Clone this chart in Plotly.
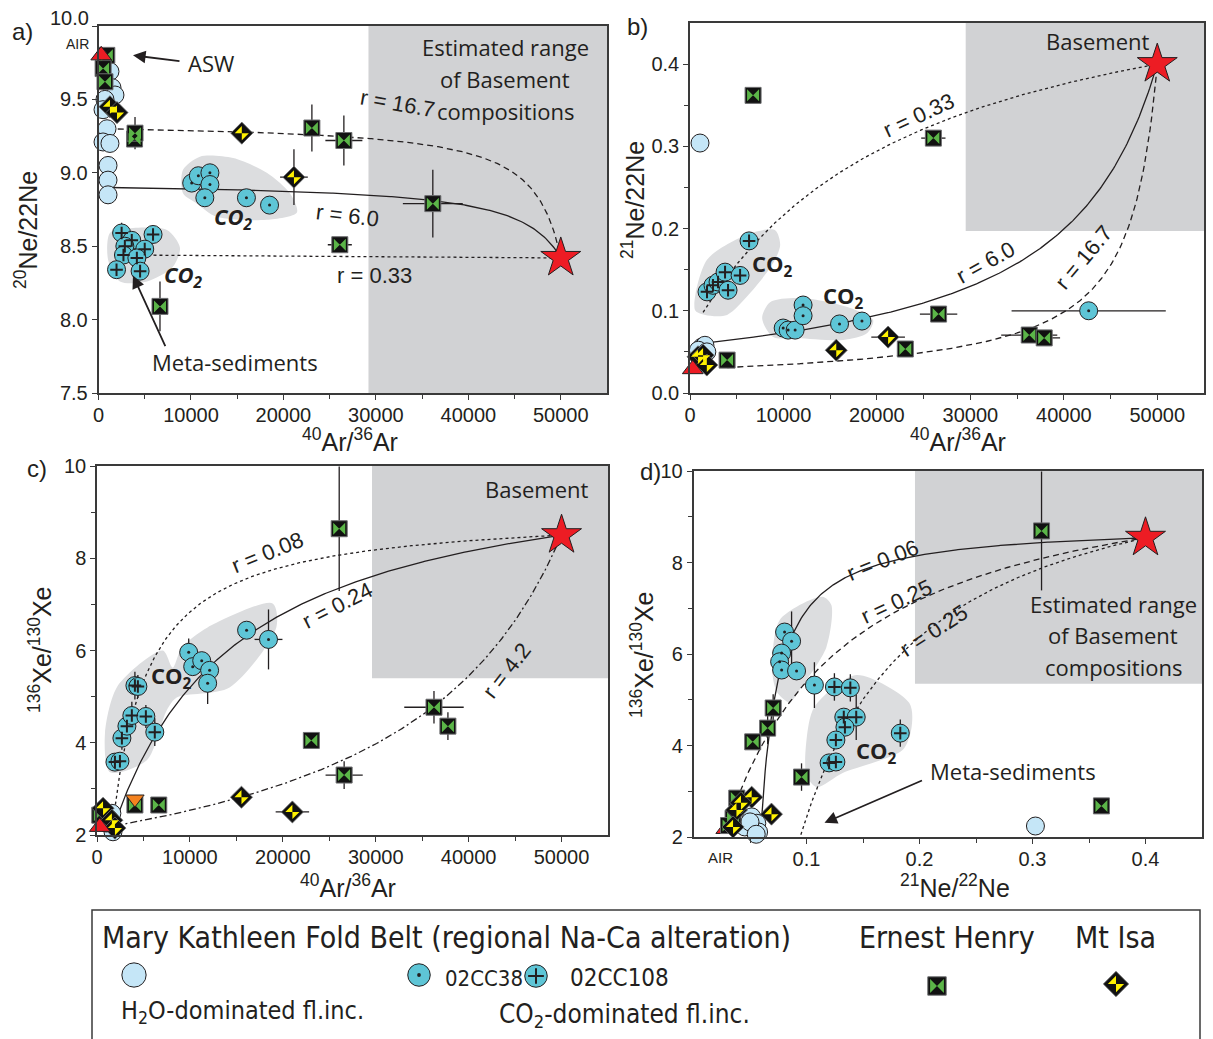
import numpy as np
import plotly.graph_objects as go

W, H = 1213, 1039

AX_FONT = "Liberation Sans, Arial, sans-serif"
TXT_FONT = "Open Sans, Noto Sans, sans-serif"
LEG_FONT = "Liberation Sans Narrow, DejaVu Sans Condensed, Open Sans, sans-serif"

INK = "#231f20"
H2O_FILL = "#c5e6f7"
CC_FILL = "#5ec5d6"
EH_GREEN = "#5bb548"
MI_YELLOW = "#fff200"
RED = "#ed1c24"
ORANGE = "#f4821f"
BASE_GREY = "#d1d2d4"
FIELD_GREY = "#dcdddf"

# ---------------- panel a: 40Ar/36Ar vs 20Ne/22Ne ----------------
A_H2O_X = [1240, 1460, 1780, 700, 490, 920, 490, 1240, 1030, 1030, 1030]
A_H2O_Y = [9.69, 9.58, 9.53, 9.50, 9.43, 9.30, 9.21, 9.20, 9.05, 8.95, 8.85]
A_CC38_X = [10080, 10800, 12050, 12050, 11500, 16000, 18500]
A_CC38_Y = [8.93, 8.98, 9.00, 8.92, 8.83, 8.83, 8.78]
A_CC108_X = [2500, 3600, 2850, 5900, 5000, 2700, 4150, 1950, 4500]
A_CC108_Y = [8.59, 8.54, 8.50, 8.58, 8.48, 8.44, 8.42, 8.34, 8.33]
A_CC108_EY = [0.07, 0, 0.05, 0, 0.06, 0.04, 0, 0.05, 0]
A_EH_X = [900, 500, 700, 3900, 3950, 23080, 26540, 36160, 26100, 6650]
A_EH_Y = [9.80, 9.71, 9.62, 9.23, 9.27, 9.305, 9.22, 8.79, 8.51, 8.09]
A_EH_EX = [0, 0, 0, 0, 0, 0, 2000, 3240, 1300, 0]
A_EH_EY = [0, 0, 0, 0, 0.11, 0.16, 0.17, 0.23, 0.04, 0.17]
A_MI_X = [1240, 2000, 15500, 21140]
A_MI_Y = [9.45, 9.41, 9.27, 8.97]
A_MI_EX = [0, 0, 0, 1500]
A_MI_EY = [0, 0, 0, 0.19]
A_AIR = (295.5, 9.80)
A_BASEMENT = (50000, 8.42)
A_MIX_LABELS = ["r = 16.7", "r = 6.0", "r = 0.33"]
A_MIX_X0 = [1000, 1200, 2700]
A_MIX_Y0 = [9.30, 8.90, 8.44]
A_MIX_K = [0.06, 0.09, 1.0]
A_MIX_DASH = ["6px,4px", "solid", "3px,3px"]
A_FIELD1_X = [9140, 10970, 14560, 18200, 20700, 21460, 18200, 12800, 10650, 9140]
A_FIELD1_Y = [9.02, 9.11, 9.10, 9.00, 8.86, 8.73, 8.68, 8.70, 8.79, 8.86]
A_FIELD2_X = [1240, 3080, 7400, 8810, 8050, 5240, 2320, 1030]
A_FIELD2_Y = [8.59, 8.62, 8.61, 8.49, 8.36, 8.26, 8.26, 8.41]

# ---------------- panel b: 40Ar/36Ar vs 21Ne/22Ne ----------------
B_H2O_X = [1070, 1290, 1600, 900, 1800]
B_H2O_Y = [0.304, 0.056, 0.058, 0.052, 0.050]
B_CC38_X = [9970, 10500, 11250, 12100, 12100, 16000, 18400, 42660]
B_CC38_Y = [0.079, 0.0765, 0.0765, 0.107, 0.094, 0.084, 0.0875, 0.100]
B_CC38_EX = [0, 0, 0, 0, 0, 0, 0, 8250]
B_CC108_X = [6320, 1820, 2460, 3000, 3750, 4070, 5360]
B_CC108_Y = [0.185, 0.123, 0.131, 0.135, 0.147, 0.125, 0.143]
B_EH_X = [6750, 3970, 26040, 26600, 23040, 36300, 37900]
B_EH_Y = [0.362, 0.040, 0.310, 0.096, 0.0535, 0.0705, 0.067]
B_EH_EX = [0, 0, 1300, 2000, 0, 3000, 1700]
B_MI_X = [860, 1400, 1800, 15650, 21200]
B_MI_Y = [0.044, 0.046, 0.034, 0.052, 0.068]
B_MI_EX = [0, 0, 0, 0, 1800]
B_AIR = (295.5, 0.029)
B_BASEMENT = (50000, 0.40)
B_MIX_LABELS = ["r = 0.33", "r = 6.0", "r = 16.7"]
B_MIX_X0 = [1400, 1800, 4000]
B_MIX_Y0 = [0.098, 0.061, 0.031]
B_MIX_K = [3.0, 0.18, 0.062]
B_MIX_DASH = ["3px,3px", "solid", "6px,4px"]
B_FIELD1_X = [536, 1820, 6430, 9110, 9650, 8900, 6430, 3970, 1610]
B_FIELD1_Y = [0.101, 0.162, 0.194, 0.198, 0.180, 0.158, 0.1215, 0.095, 0.095]
B_FIELD2_X = [7720, 8570, 12000, 17150, 19600, 18970, 16400, 11470, 8900]
B_FIELD2_Y = [0.091, 0.1105, 0.1154, 0.1033, 0.0887, 0.0729, 0.0644, 0.0668, 0.068]

# ---------------- panel c: 40Ar/36Ar vs 136Xe/130Xe ----------------
C_H2O_X = [700, 1600, 1720, 1000, 1300]
C_H2O_Y = [2.50, 2.47, 2.07, 2.26, 2.35]
C_CC38_X = [9870, 10300, 11270, 12120, 11910, 16100, 18460]
C_CC38_Y = [5.96, 5.65, 5.78, 5.57, 5.29, 6.44, 6.24]
C_CC38_EX = [0, 0, 0, 0, 0, 0, 1500]
C_CC38_EY = [0.3, 0, 0, 0, 0.45, 0, 0.65]
C_CC108_X = [1930, 2470, 2680, 3220, 3750, 4080, 4400, 5260, 6220]
C_CC108_Y = [3.58, 3.60, 4.10, 4.36, 4.59, 5.24, 5.22, 4.57, 4.23]
C_CC108_EY = [0, 0.15, 0.25, 0.3, 0.3, 0.3, 0.25, 0.25, 0.3]
C_EH_X = [300, 4080, 6650, 26070, 23070, 26600, 36270, 37770]
C_EH_Y = [2.43, 2.65, 2.65, 8.64, 4.05, 3.30, 4.77, 4.36]
C_EH_EX = [0, 0, 0, 0, 0, 2000, 3200, 0]
C_EH_EY = [0, 0, 0, 1.35, 0, 0.3, 0.35, 0.3]
C_MI_X = [650, 1600, 1930, 15550, 21030]
C_MI_Y = [2.58, 2.32, 2.15, 2.82, 2.50]
C_MI_EX = [0, 0, 0, 0, 1800]
C_ORANGE_X = [4080]
C_ORANGE_Y = [2.78]
C_AIR = (295.5, 2.176)
C_BASEMENT = (50000, 8.50)
C_MIX_LABELS = ["r = 0.08", "r = 0.24", "r = 4.2"]
C_MIX_X0 = [1800, 2000, 2000]
C_MIX_Y0 = [2.40, 2.30, 2.20]
C_MIX_K = [13.0, 4.4, 0.28]
C_MIX_DASH = ["3px,3px", "solid", "7px,3px,2px,3px"]
C_FIELD_X = [860, 2250, 7080, 8150, 9120, 11900, 18900, 19300, 14270, 8580, 7500, 5360, 1400]
C_FIELD_Y = [4.21, 5.24, 6.00, 5.63, 6.06, 6.50, 7.02, 6.50, 5.20, 4.98, 4.70, 3.62, 3.36]

# ---------------- panel d: 21Ne/22Ne vs 136Xe/130Xe ----------------
D_H2O_X = [0.0515, 0.056, 0.0454, 0.0576, 0.050, 0.0555, 0.3026]
D_H2O_Y = [2.44, 2.30, 2.22, 2.11, 2.33, 2.06, 2.24]
D_CC38_X = [0.0806, 0.0868, 0.078, 0.0762, 0.078, 0.0912, 0.107]
D_CC38_Y = [6.48, 6.28, 6.02, 5.83, 5.65, 5.63, 5.32]
D_CC38_EY = [0, 0.65, 0, 0, 0, 0, 0.5]
D_CC108_X = [0.1247, 0.1388, 0.133, 0.144, 0.134, 0.126, 0.120, 0.126, 0.183]
D_CC108_Y = [5.28, 5.26, 4.62, 4.62, 4.40, 4.12, 3.62, 3.64, 4.27]
D_CC108_EY = [0.3, 0.3, 0, 0.5, 0, 0, 0, 0, 0.3]
D_EH_X = [0.0705, 0.0656, 0.0524, 0.0956, 0.308, 0.361, 0.0383, 0.035, 0.031]
D_EH_Y = [4.82, 4.38, 4.08, 3.31, 8.69, 2.68, 2.85, 2.41, 2.25]
D_EH_EY = [0.3, 0.35, 0, 0.3, 1.3, 0, 0, 0, 0]
D_MI_X = [0.0515, 0.069, 0.038, 0.035, 0.042]
D_MI_Y = [2.87, 2.50, 2.59, 2.22, 2.75]
D_AIR = (0.029, 2.176)
D_BASEMENT = (0.40, 8.54)
D_MIX_LABELS = ["r = 0.06", "r = 0.25", "r = 0.25"]
D_MIX_X0 = [0.060, 0.038, 0.095]
D_MIX_Y0 = [2.30, 2.80, 2.05]
D_MIX_K = [22.0, 4.0, 3.8]
D_MIX_DASH = ["solid", "6px,4px", "3px,3px"]
D_FIELD1_X = [0.070, 0.0762, 0.114, 0.122, 0.1176, 0.0956, 0.085, 0.0744]
D_FIELD1_Y = [5.54, 6.74, 7.25, 7.07, 6.15, 5.28, 4.95, 5.15]
D_FIELD2_X = [0.100, 0.107, 0.144, 0.191, 0.193, 0.185, 0.132, 0.109, 0.100]
D_FIELD2_Y = [4.12, 4.84, 5.54, 4.93, 4.40, 3.90, 3.40, 3.09, 3.35]

# tick labels
AR_TICKS = [0, 10000, 20000, 30000, 40000, 50000]
AR_TICKTEXT = ["0", "10000", "20000", "30000", "40000", "50000"]
AR_MINOR = [5000, 15000, 25000, 35000, 45000]
A_YTICKS = [7.5, 8.0, 8.5, 9.0, 9.5, 10.0]
A_YTICKTEXT = ["7.5", "8.0", "8.5", "9.0", "9.5", ""]
B_YTICKS = [0, 0.1, 0.2, 0.3, 0.4]
XE_TICKS = [2, 4, 6, 8, 10]
NE_TICKS = [0.1, 0.2, 0.3, 0.4]

fig = go.Figure()


def mixing_curve(x0, y0, x1, y1, k, n=300):
    """Binary mixing hyperbola between two end-members with curvature k."""
    s = np.linspace(0.0, 1.0, n)
    u = k * s / (1.0 - s + k * s)
    return x0 + (x1 - x0) * s, y0 + (y1 - y0) * u


def add_field(xa, ya, xs, ys):
    fig.add_trace(go.Scatter(
        x=list(xs) + [xs[0]], y=list(ys) + [ys[0]], mode="lines", fill="toself",
        fillcolor=FIELD_GREY, line=dict(width=0, shape="spline", smoothing=0.8),
        xaxis=xa, yaxis=ya, hoverinfo="skip", showlegend=False))


def add_curves(xa, ya, x0s, y0s, ks, dashes, end):
    for x0, y0, k, dash in zip(x0s, y0s, ks, dashes):
        cx, cy = mixing_curve(x0, y0, end[0], end[1], k)
        fig.add_trace(go.Scatter(
            x=cx, y=cy, mode="lines", line=dict(color=INK, width=1.3, dash=dash),
            xaxis=xa, yaxis=ya, hoverinfo="skip", showlegend=False))


def err(arr):
    if arr is None:
        return None
    return dict(type="data", array=arr, color=INK, thickness=1.3, width=0, visible=True)


def scatter(xa, ya, xs, ys, symbol, size, color, line_color=INK, line_width=1.0,
            ex=None, ey=None, angle=0):
    fig.add_trace(go.Scatter(
        x=xs, y=ys, mode="markers", xaxis=xa, yaxis=ya, cliponaxis=False,
        marker=dict(symbol=symbol, size=size, color=color, angle=angle,
                    line=dict(color=line_color, width=line_width)),
        error_x=err(ex), error_y=err(ey), hoverinfo="skip", showlegend=False))


def add_group(xa, ya, kind, xs, ys, ex=None, ey=None, scale=1.0):
    if kind == "h2o":
        scatter(xa, ya, xs, ys, "circle", 18 * scale, H2O_FILL, ex=ex, ey=ey)
    elif kind == "cc38":
        scatter(xa, ya, xs, ys, "circle", 18 * scale, CC_FILL, ex=ex, ey=ey)
        scatter(xa, ya, xs, ys, "circle", 3 * scale, INK, line_width=0)
    elif kind == "cc108":
        scatter(xa, ya, xs, ys, "circle", 18 * scale, CC_FILL, ex=ex, ey=ey)
        scatter(xa, ya, xs, ys, "cross-thin", 9 * scale, INK, line_width=2)
    elif kind == "eh":
        scatter(xa, ya, xs, ys, "square", 16 * scale, "#111111",
                line_color="#6d6e70", line_width=1, ex=ex, ey=ey)
        scatter(xa, ya, xs, ys, "bowtie", 12 * scale, EH_GREEN, line_width=0)
    elif kind == "mi":
        scatter(xa, ya, xs, ys, "diamond", 17 * scale, "#111111",
                line_color="#6d6e70", line_width=0.8, ex=ex, ey=ey)
        scatter(xa, ya, xs, ys, "bowtie", 10 * scale, MI_YELLOW, line_width=0, angle=45)
    elif kind == "air":
        scatter(xa, ya, xs, ys, "triangle-up", 18 * scale, RED)
    elif kind == "base":
        scatter(xa, ya, xs, ys, "star", 30 * scale, RED, line_width=1)
    elif kind == "orange":
        scatter(xa, ya, xs, ys, "triangle-down", 16 * scale, ORANGE)


# ---- panel a
add_field("x", "y", A_FIELD1_X, A_FIELD1_Y)
add_field("x", "y", A_FIELD2_X, A_FIELD2_Y)
add_curves("x", "y", A_MIX_X0, A_MIX_Y0, A_MIX_K, A_MIX_DASH, A_BASEMENT)
add_group("x", "y", "h2o", A_H2O_X, A_H2O_Y)
add_group("x", "y", "cc38", A_CC38_X, A_CC38_Y)
add_group("x", "y", "cc108", A_CC108_X, A_CC108_Y, ey=A_CC108_EY)
add_group("x", "y", "eh", A_EH_X, A_EH_Y, ex=A_EH_EX, ey=A_EH_EY)
add_group("x", "y", "mi", A_MI_X, A_MI_Y, ex=A_MI_EX, ey=A_MI_EY)
add_group("x", "y", "air", [A_AIR[0]], [A_AIR[1]])
add_group("x", "y", "base", [A_BASEMENT[0]], [A_BASEMENT[1]])

# ---- panel b
add_field("x2", "y2", B_FIELD1_X, B_FIELD1_Y)
add_field("x2", "y2", B_FIELD2_X, B_FIELD2_Y)
add_curves("x2", "y2", B_MIX_X0, B_MIX_Y0, B_MIX_K, B_MIX_DASH, B_BASEMENT)
add_group("x2", "y2", "h2o", B_H2O_X, B_H2O_Y)
add_group("x2", "y2", "cc38", B_CC38_X, B_CC38_Y, ex=B_CC38_EX)
add_group("x2", "y2", "cc108", B_CC108_X, B_CC108_Y)
add_group("x2", "y2", "eh", B_EH_X, B_EH_Y, ex=B_EH_EX)
add_group("x2", "y2", "mi", B_MI_X, B_MI_Y, ex=B_MI_EX)
add_group("x2", "y2", "air", [B_AIR[0]], [B_AIR[1]])
add_group("x2", "y2", "base", [B_BASEMENT[0]], [B_BASEMENT[1]])

# ---- panel c
add_field("x3", "y3", C_FIELD_X, C_FIELD_Y)
add_curves("x3", "y3", C_MIX_X0, C_MIX_Y0, C_MIX_K, C_MIX_DASH, C_BASEMENT)
add_group("x3", "y3", "h2o", C_H2O_X, C_H2O_Y)
add_group("x3", "y3", "cc38", C_CC38_X, C_CC38_Y, ex=C_CC38_EX, ey=C_CC38_EY)
add_group("x3", "y3", "cc108", C_CC108_X, C_CC108_Y, ey=C_CC108_EY)
add_group("x3", "y3", "eh", C_EH_X, C_EH_Y, ex=C_EH_EX, ey=C_EH_EY)
add_group("x3", "y3", "mi", C_MI_X, C_MI_Y, ex=C_MI_EX)
add_group("x3", "y3", "orange", C_ORANGE_X, C_ORANGE_Y)
add_group("x3", "y3", "air", [C_AIR[0]], [C_AIR[1]])
add_group("x3", "y3", "base", [C_BASEMENT[0]], [C_BASEMENT[1]])

# ---- panel d
add_field("x4", "y4", D_FIELD1_X, D_FIELD1_Y)
add_field("x4", "y4", D_FIELD2_X, D_FIELD2_Y)
add_curves("x4", "y4", D_MIX_X0, D_MIX_Y0, D_MIX_K, D_MIX_DASH, D_BASEMENT)
add_group("x4", "y4", "air", [D_AIR[0]], [D_AIR[1]])
add_group("x4", "y4", "h2o", D_H2O_X, D_H2O_Y)
add_group("x4", "y4", "cc38", D_CC38_X, D_CC38_Y, ey=D_CC38_EY)
add_group("x4", "y4", "cc108", D_CC108_X, D_CC108_Y, ey=D_CC108_EY)
add_group("x4", "y4", "eh", D_EH_X, D_EH_Y, ey=D_EH_EY)
add_group("x4", "y4", "mi", D_MI_X, D_MI_Y)
add_group("x4", "y4", "base", [D_BASEMENT[0]], [D_BASEMENT[1]])

# ---- legend keys (pixel-space overlay axis)
add_group("x5", "y5", "h2o", [134], [975], scale=1.35)
add_group("x5", "y5", "cc38", [419], [975], scale=1.25)
add_group("x5", "y5", "cc108", [536], [976], scale=1.25)
add_group("x5", "y5", "eh", [937], [986], scale=1.15)
add_group("x5", "y5", "mi", [1116], [984], scale=1.15)


def px_x(p):
    return p / W


def px_y(p):
    return 1 - p / H


axis_common = dict(
    showline=True, linecolor="#3a3a3a", linewidth=1.5, mirror=True,
    ticks="outside", ticklen=5, tickwidth=1.2, tickcolor="#3a3a3a",
    showgrid=False, zeroline=False, automargin=False,
    tickfont=dict(family=AX_FONT, size=20, color="#231f20"),
)
xaxis_common = dict(axis_common, ticklabelstandoff=-2)
minor_common = dict(ticks="outside", ticklen=4, tickwidth=1.2, tickcolor="#3a3a3a", showgrid=False)

layout = dict(
    width=W, height=H, margin=dict(l=0, r=0, t=0, b=0, pad=0, autoexpand=False),
    paper_bgcolor="white", plot_bgcolor="rgba(0,0,0,0)", showlegend=False,
    xaxis=dict(xaxis_common, domain=[px_x(98.5), px_x(607)], range=[0, 55000], anchor="y",
               tickvals=AR_TICKS, ticktext=AR_TICKTEXT,
               minor=dict(minor_common, tickvals=AR_MINOR)),
    yaxis=dict(axis_common, domain=[px_y(393), px_y(26)], range=[7.5, 10.0], anchor="x",
               tickvals=A_YTICKS, ticktext=A_YTICKTEXT),
    xaxis2=dict(xaxis_common, domain=[px_x(690), px_x(1204)], range=[0, 55000], anchor="y2",
                tickvals=AR_TICKS, ticktext=AR_TICKTEXT,
                minor=dict(minor_common, tickvals=AR_MINOR)),
    yaxis2=dict(axis_common, domain=[px_y(393), px_y(23)], range=[0, 0.45], anchor="x2",
                tickvals=B_YTICKS, tickformat=".1f",
                minor=dict(minor_common, tickvals=[0.05, 0.15, 0.25, 0.35])),
    xaxis3=dict(xaxis_common, domain=[px_x(97), px_x(608)], range=[0, 55000], anchor="y3",
                tickvals=AR_TICKS, ticktext=AR_TICKTEXT,
                minor=dict(minor_common, tickvals=AR_MINOR)),
    yaxis3=dict(axis_common, domain=[px_y(835), px_y(466)], range=[2, 10], anchor="x3",
                tickvals=XE_TICKS, minor=dict(minor_common, tickvals=[3, 5, 7, 9])),
    xaxis4=dict(xaxis_common, domain=[px_x(693.5), px_x(1202)], range=[0, 0.45], anchor="y4",
                tickvals=NE_TICKS, tickformat=".1f",
                minor=dict(minor_common, tickvals=[0.05, 0.15, 0.25, 0.35])),
    yaxis4=dict(axis_common, domain=[px_y(837), px_y(471)], range=[2, 10], anchor="x4",
                tickvals=XE_TICKS, minor=dict(minor_common, tickvals=[3, 5, 7, 9])),
    xaxis5=dict(domain=[0, 1], range=[0, W], visible=False, anchor="y5",
                fixedrange=True, automargin=False),
    yaxis5=dict(domain=[0, 1], range=[H, 0], visible=False, anchor="x5",
                fixedrange=True, automargin=False),
)
fig.update_layout(**layout)

# basement composition ranges
for xr, yr, x0, x1, y0, y1 in [
    ("x", "y", 29200, 55000, 7.5, 10.0),
    ("x2", "y2", 29500, 55000, 0.197, 0.45),
    ("x3", "y3", 29600, 55000, 5.4, 10.0),
    ("x4", "y4", 0.196, 0.45, 5.35, 10.0),
]:
    fig.add_shape(type="rect", xref=xr, yref=yr, x0=x0, x1=x1, y0=y0, y1=y1,
                  fillcolor=BASE_GREY, line=dict(width=0), layer="below")

# legend frame
fig.add_shape(type="rect", xref="paper", yref="paper", x0=px_x(92), x1=px_x(1200),
              y0=px_y(1046), y1=px_y(910), line=dict(color="#3a3a3a", width=1.5),
              fillcolor="rgba(0,0,0,0)")

ann = []


def text(t, x, y, xref="paper", yref="paper", size=22, family=TXT_FONT, angle=0,
         xanchor="center", yanchor="middle", color=INK):
    ann.append(dict(text=t, x=x, y=y, xref=xref, yref=yref, showarrow=False,
                    textangle=angle, xanchor=xanchor, yanchor=yanchor,
                    font=dict(family=family, size=size, color=color)))


def ptext(t, px, py, **kw):
    text(t, px_x(px), px_y(py), **kw)


# panel letters
ptext("a)", 22, 32, size=24, family=AX_FONT)
ptext("b)", 637, 26, size=24, family=AX_FONT)
ptext("c)", 37, 468, size=24, family=AX_FONT)
ptext("d)", 650, 471, size=24, family=AX_FONT)

# raised top label of the neon axis in panel a
ptext("10.0", 69, 18, size=20, family=AX_FONT)

# axis titles
ptext("<sup>20</sup>Ne/22Ne", 26, 230, size=25, family=AX_FONT, angle=-90)
ptext("<sup>21</sup>Ne/22Ne", 633, 200, size=25, family=AX_FONT, angle=-90)
ptext("<sup>136</sup>Xe/<sup>130</sup>Xe", 40, 650, size=25, family=AX_FONT, angle=-90)
ptext("<sup>136</sup>Xe/<sup>130</sup>Xe", 642, 655, size=25, family=AX_FONT, angle=-90)
ptext("<sup>40</sup>Ar/<sup>36</sup>Ar", 350, 440, size=25, family=AX_FONT)
ptext("<sup>40</sup>Ar/<sup>36</sup>Ar", 958, 440, size=25, family=AX_FONT)
ptext("<sup>40</sup>Ar/<sup>36</sup>Ar", 348, 886, size=25, family=AX_FONT)
ptext("<sup>21</sup>Ne/<sup>22</sup>Ne", 955, 886, size=25, family=AX_FONT)

# AIR markers on axes
ptext("AIR", 77, 44, size=14, family=AX_FONT)
ptext("AIR", 720, 857, size=15, family=AX_FONT)

# curve labels
CURVE_LABEL_POS = {
    ("x", "y"): ([32380, 26970, 29900], [9.475, 8.71, 8.30], [10, 7, 0]),
    ("x2", "y2"): ([24440, 31620, 42120], [0.338, 0.159, 0.165], [-25, -29, -50]),
    ("x3", "y3"): ([18350, 25860, 44100], [8.12, 6.97, 5.57], [-22, -27, -52]),
    ("x4", "y4"): ([0.167, 0.180, 0.2128], [8.05, 7.14, 6.52], [-22, -25, -33]),
}
CURVE_LABELS = {("x", "y"): A_MIX_LABELS, ("x2", "y2"): B_MIX_LABELS,
                ("x3", "y3"): C_MIX_LABELS, ("x4", "y4"): D_MIX_LABELS}
for key, (lx, ly, la) in CURVE_LABEL_POS.items():
    for t, x, y, a in zip(CURVE_LABELS[key], lx, ly, la):
        text(t, x, y, xref=key[0], yref=key[1], size=22, family=AX_FONT, angle=a)

# region labels
for line, py in zip(["Estimated range", "of Basement", "compositions"], [47, 79, 111]):
    ptext(line, 505, py, size=22)
for line, py in zip(["Estimated range", "of Basement", "compositions"], [604, 635, 667]):
    ptext(line, 1113, py, size=22)
text("Basement", 43620, 0.428, xref="x2", yref="y2", size=22)
text("Basement", 47300, 9.50, xref="x3", yref="y3", size=22)

co2 = "<b>CO<sub>2</sub></b>"
co2i = "<b><i>CO<sub>2</sub></i></b>"
text(co2i, 14560, 8.69, xref="x", yref="y", size=22)
text(co2i, 9140, 8.30, xref="x", yref="y", size=22)
text(co2, 8790, 0.1555, xref="x2", yref="y2", size=22)
text(co2, 16400, 0.1166, xref="x2", yref="y2", size=22)
text(co2, 8050, 5.42, xref="x3", yref="y3", size=22)
text(co2, 0.1617, 3.86, xref="x4", yref="y4", size=22)

ptext("ASW", 211, 63, size=22)
ptext("Meta-sediments", 235, 362, size=22)
ptext("Meta-sediments", 1013, 771, size=22)

# arrows
for x, y, xr, yr, axo, ayo in [
    (3730, 9.80, "x", "y", 48, 6),
    (3730, 8.30, "x", "y", 33, 72),
    (0.1159, 2.31, "x4", "y4", 99, -43),
]:
    ann.append(dict(text="", x=x, y=y, xref=xr, yref=yr, ax=axo, ay=ayo,
                    showarrow=True, arrowhead=2, arrowsize=1.4, arrowwidth=1.8,
                    arrowcolor=INK))

# legend texts
ptext("Mary Kathleen Fold Belt (regional Na-Ca alteration)", 100, 937, size=30,
      family=LEG_FONT, xanchor="left")
ptext("Ernest Henry", 947, 937, size=30, family=LEG_FONT)
ptext("Mt Isa", 1115, 937, size=30, family=LEG_FONT)
ptext("02CC38", 443, 978, size=22, family=LEG_FONT, xanchor="left")
ptext("02CC108", 568, 978, size=24, family=LEG_FONT, xanchor="left")
ptext("H<sub>2</sub>O-dominated fl.inc.", 119, 1012, size=25, family=LEG_FONT, xanchor="left")
ptext("CO<sub>2</sub>-dominated fl.inc.", 497, 1015, size=26, family=LEG_FONT, xanchor="left")

fig.update_layout(annotations=ann)
fig.write_html("out.html")
